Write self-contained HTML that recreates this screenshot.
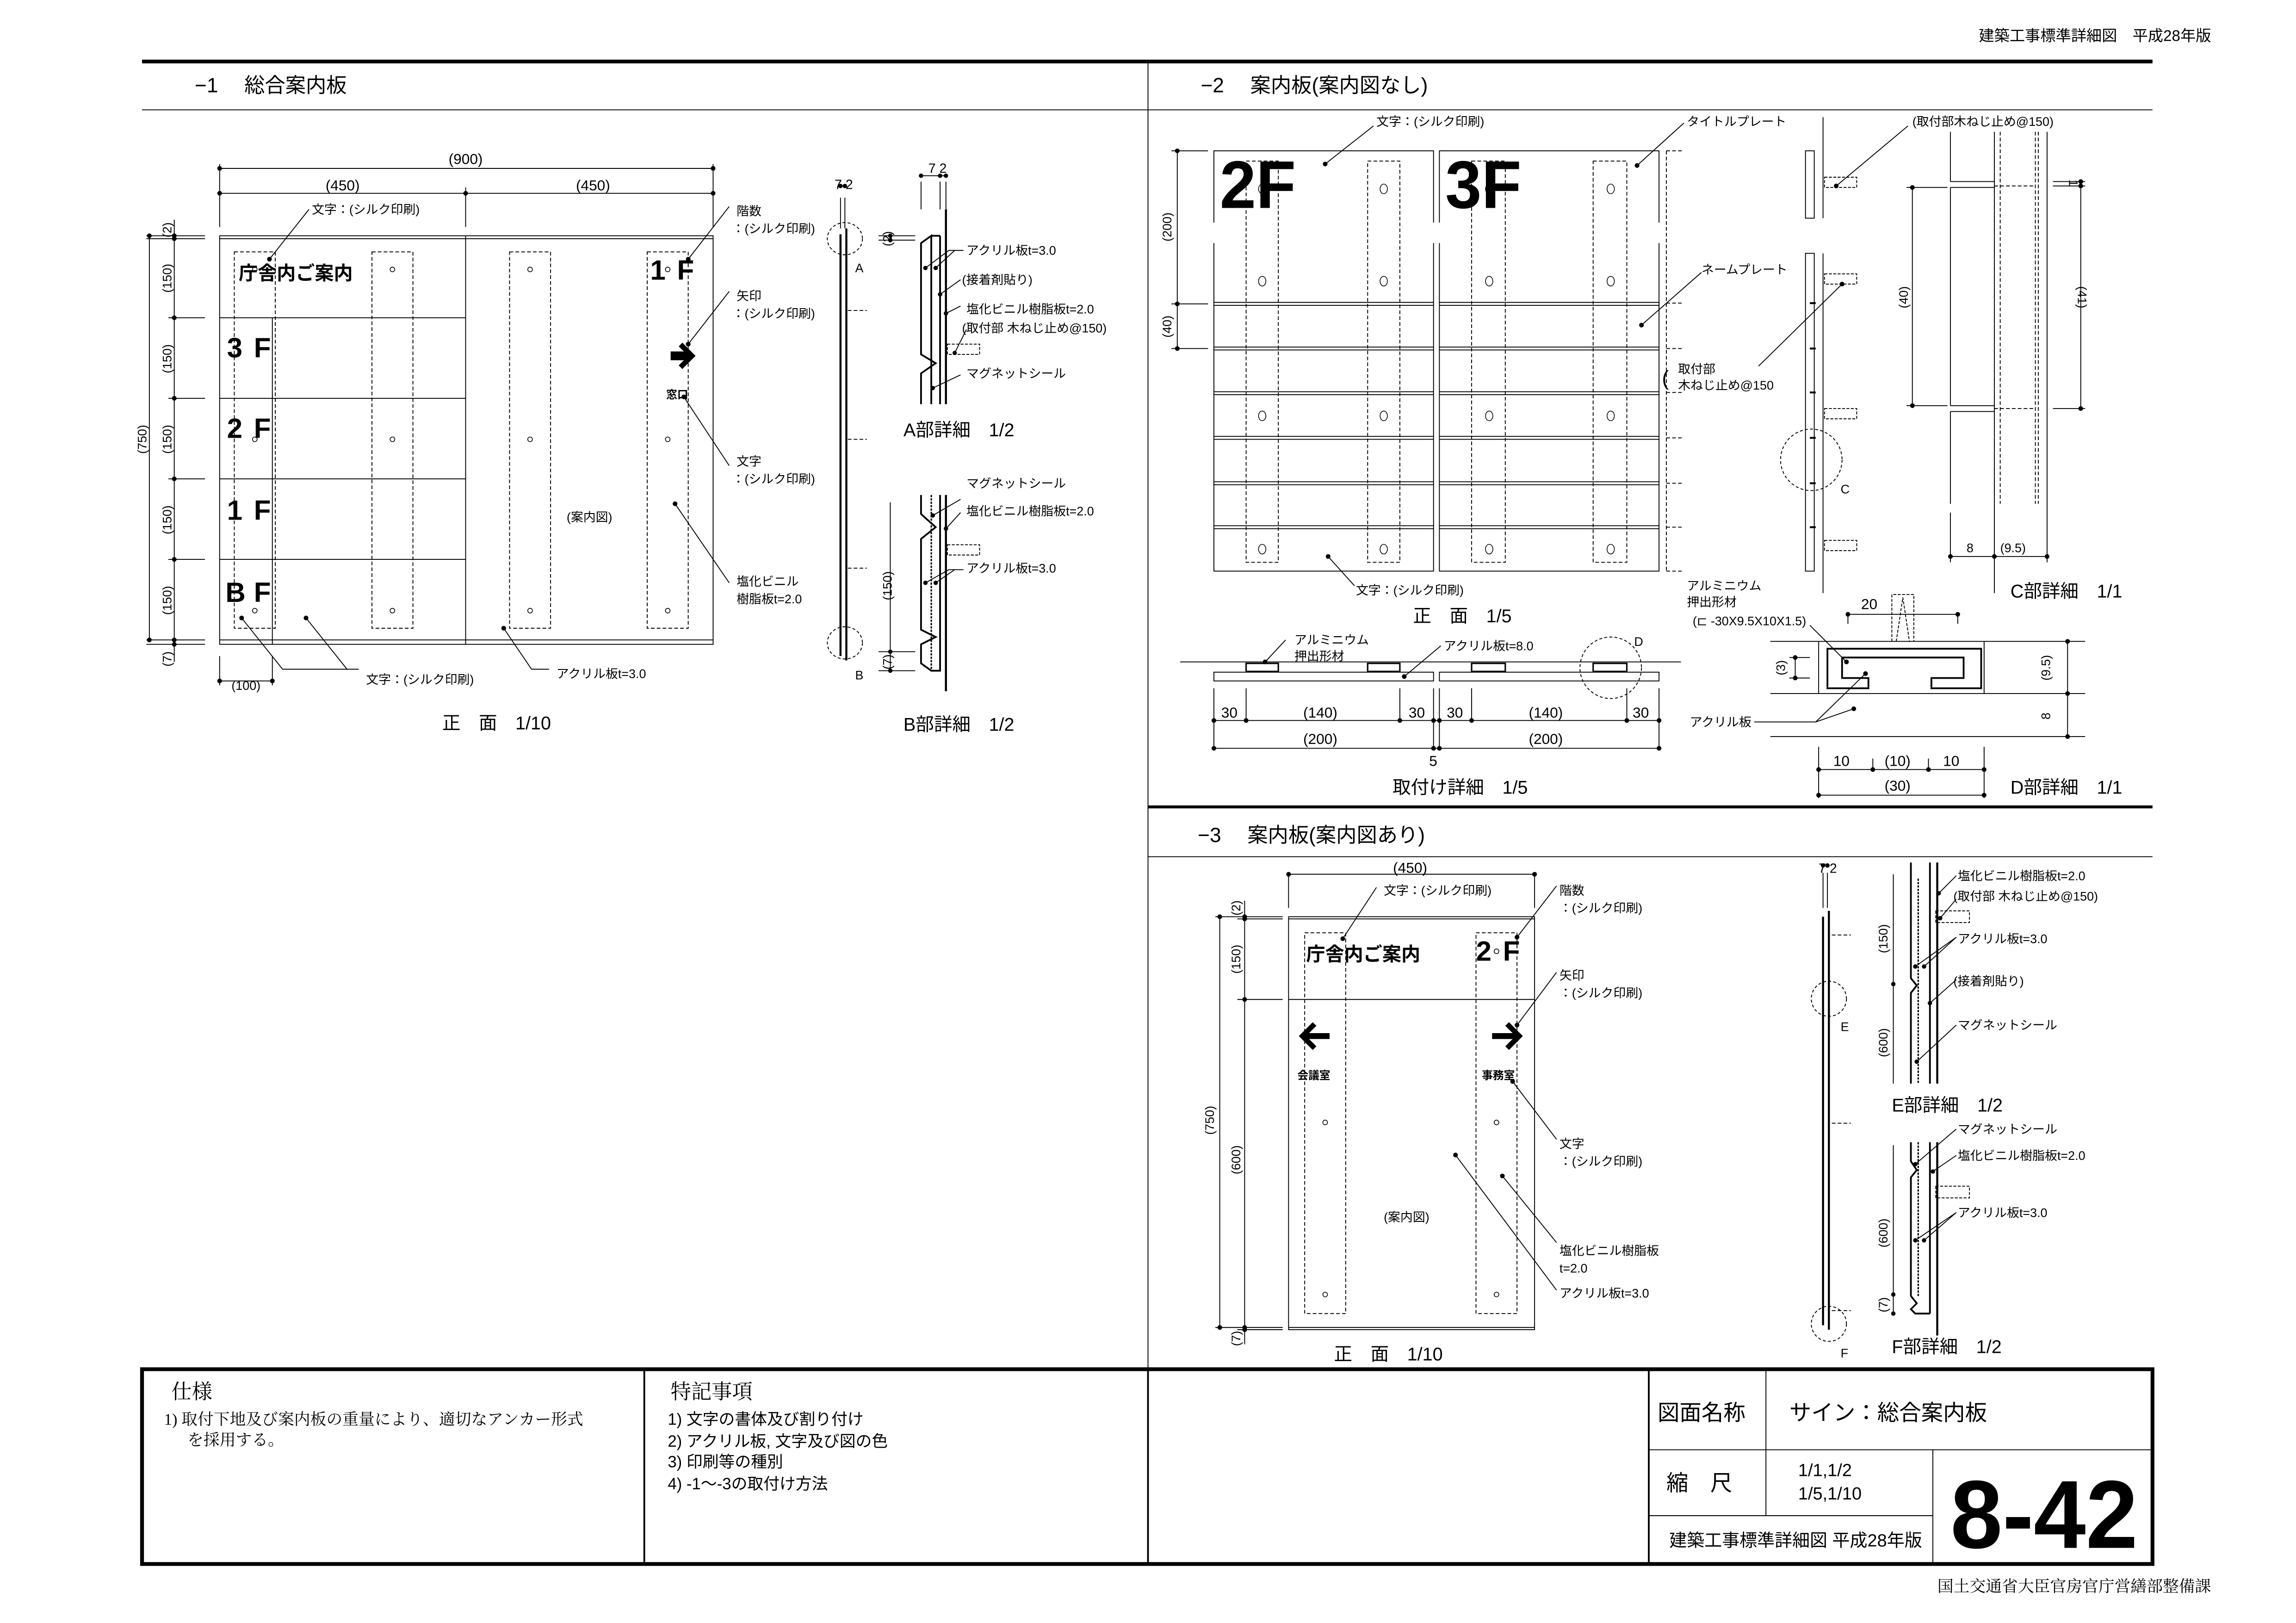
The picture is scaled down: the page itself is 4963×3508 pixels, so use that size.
<!DOCTYPE html>
<html><head><meta charset="utf-8">
<style>
html,body{margin:0;padding:0;background:#fff;}
svg{display:block;}
text{font-family:"Liberation Sans","Noto Sans CJK JP",sans-serif;fill:#000;}
.s{font-size:8.5px;}
.m{font-size:10px;}
.t{font-size:14px;}
.se{font-family:"Liberation Serif","Noto Serif CJK SC",serif;}
</style></head><body>
<svg width="4963" height="3508" viewBox="0 0 1568 1108.3" preserveAspectRatio="none" xmlns="http://www.w3.org/2000/svg">
<rect width="1568" height="1109" fill="#fff"/>
<g stroke="#000" fill="none" stroke-width="0.6">

<!-- header frame -->
<line x1="97" y1="42" x2="1470" y2="42" stroke-width="2.6"/>
<line x1="97" y1="75" x2="1470" y2="75"/>
<line x1="784" y1="42" x2="784" y2="935"/>
<line x1="784" y1="551" x2="1470" y2="551" stroke-width="2"/>
<line x1="784" y1="585" x2="1470" y2="585"/>

<!-- title block -->
<rect x="97" y="935" width="1373" height="133" stroke-width="2.6"/>
<line x1="440" y1="935" x2="440" y2="1068" stroke-width="1.2"/>
<line x1="784" y1="935" x2="784" y2="1068" stroke-width="1.2"/>
<line x1="1126" y1="935" x2="1126" y2="1068" stroke-width="1.2"/>
<line x1="1126" y1="990" x2="1470" y2="990"/>
<line x1="1126" y1="1035" x2="1320" y2="1035"/>
<line x1="1206" y1="935" x2="1206" y2="1035"/>
<line x1="1320" y1="990" x2="1320" y2="1068"/>

<!-- ===== -1 front ===== -->
<line x1="150" y1="115" x2="487" y2="115"/>
<line x1="150" y1="132" x2="487" y2="132"/>
<line x1="150" y1="112" x2="150" y2="155"/>
<line x1="318" y1="128" x2="318" y2="155"/>
<line x1="487" y1="112" x2="487" y2="155"/>
<rect x="150" y="161" width="337" height="279"/>
<line x1="150" y1="163" x2="487" y2="163"/>
<line x1="150" y1="437" x2="487" y2="437"/>
<line x1="318" y1="161" x2="318" y2="440"/>
<line x1="186" y1="217" x2="186" y2="440"/>
<line x1="150" y1="217" x2="318" y2="217"/>
<line x1="150" y1="272" x2="318" y2="272"/>
<line x1="150" y1="327" x2="318" y2="327"/>
<line x1="150" y1="382" x2="318" y2="382"/>
<g>
<line x1="100" y1="161" x2="140" y2="161"/><line x1="100" y1="163" x2="140" y2="163"/>
<line x1="115" y1="217" x2="140" y2="217"/><line x1="115" y1="272" x2="140" y2="272"/>
<line x1="115" y1="327" x2="140" y2="327"/><line x1="115" y1="382" x2="140" y2="382"/>
<line x1="100" y1="437" x2="140" y2="437"/><line x1="100" y1="440" x2="140" y2="440"/>
<line x1="102" y1="161" x2="102" y2="437"/>
<line x1="119" y1="150" x2="119" y2="452"/>
</g>
<g stroke-dasharray="2.5,1.5">
<rect x="160" y="172" width="28" height="257"/>
<rect x="254" y="172" width="28" height="257"/>
<rect x="348" y="172" width="28" height="257"/>
<rect x="442" y="172" width="28" height="257"/>
</g>
<g stroke-width="0.5">
<circle cx="174" cy="184" r="1.6"/><circle cx="268" cy="184" r="1.6"/><circle cx="362" cy="184" r="1.6"/><circle cx="456" cy="184" r="1.6"/>
<circle cx="174" cy="300" r="1.6"/><circle cx="268" cy="300" r="1.6"/><circle cx="362" cy="300" r="1.6"/><circle cx="456" cy="300" r="1.6"/>
<circle cx="174" cy="417" r="1.6"/><circle cx="268" cy="417" r="1.6"/><circle cx="362" cy="417" r="1.6"/><circle cx="456" cy="417" r="1.6"/>
</g>
<line x1="150" y1="448" x2="150" y2="468"/><line x1="186" y1="448" x2="186" y2="468"/>
<line x1="150" y1="465" x2="186" y2="465"/>
<!-- leaders -1 -->
<polyline points="211,143 184,177"/>
<polyline points="498,141 470,177"/>
<polyline points="498,199 470,235"/>
<polyline points="498,318 467,271"/>
<polyline points="498,398 461,344"/>
<polyline points="165,422 193,457 245,457"/>
<polyline points="209,422 237,457"/>
<polyline points="344,429 363,457 375,457"/>

<!-- side section -1 -->
<line x1="574" y1="135" x2="574" y2="156"/><line x1="577" y1="135" x2="577" y2="156"/>
<line x1="574" y1="160" x2="574" y2="448" stroke-width="1.4"/>
<line x1="578" y1="156" x2="578" y2="451" stroke-width="1.4"/>
<ellipse cx="577" cy="163" rx="12" ry="11" stroke-dasharray="2,1.5"/>
<ellipse cx="577" cy="439" rx="12" ry="11" stroke-dasharray="2,1.5"/>
<g stroke-dasharray="2.5,1.5"><line x1="579" y1="212" x2="592" y2="212"/><line x1="579" y1="300" x2="592" y2="300"/><line x1="579" y1="388" x2="592" y2="388"/></g>
<!-- A detail -->
<line x1="629" y1="124" x2="629" y2="143"/><line x1="642" y1="124" x2="642" y2="143"/><line x1="646" y1="124" x2="646" y2="143"/>
<line x1="629" y1="120" x2="646" y2="120"/>
<polyline points="629,276 629,255 639,248 629,242 629,166 636,161 636,276" stroke-width="1.2"/>
<line x1="642" y1="161" x2="642" y2="276" stroke-width="1.2"/>
<line x1="636" y1="161" x2="642" y2="161" stroke-width="1.2"/>
<line x1="646" y1="143" x2="646" y2="276" stroke-width="1.4"/>
<rect x="647" y="235" width="22" height="7" stroke-dasharray="2,1"/>
<line x1="600" y1="161" x2="625" y2="161"/><line x1="600" y1="164" x2="625" y2="164"/>
<polyline points="632,183 648,171 658,171"/><polyline points="639,183 652,171"/>
<polyline points="642,201 656,191"/><polyline points="646,214 656,209"/>
<polyline points="652,241 660,225"/><polyline points="637,265 656,256"/>
<!-- B detail -->
<polyline points="629,338 629,351 639,360 629,368 629,430 639,435 629,440 629,453 636,458 642,458 642,338" stroke-width="1.2"/>
<line x1="636" y1="338" x2="636" y2="458" stroke-width="1" stroke-dasharray="1.5,0.8"/>
<line x1="646" y1="338" x2="646" y2="472" stroke-width="1.4"/>
<rect x="647" y="372" width="22" height="7" stroke-dasharray="2,1"/>
<line x1="608" y1="343" x2="608" y2="459"/>
<line x1="600" y1="445" x2="625" y2="445"/><line x1="600" y1="458" x2="625" y2="458"/>
<polyline points="637,352 656,341"/><polyline points="646,361 656,350"/>
<polyline points="632,398 648,389 658,389"/><polyline points="639,398 652,389"/>

<!-- ===== -2 front ===== -->
<rect x="829" y="103" width="150" height="287"/>
<rect x="983" y="103" width="150" height="287"/>
<g>
<line x1="829" y1="206.5" x2="979" y2="206.5"/><line x1="829" y1="208.5" x2="979" y2="208.5"/>
<line x1="983" y1="206.5" x2="1133" y2="206.5"/><line x1="983" y1="208.5" x2="1133" y2="208.5"/>
<line x1="829" y1="237" x2="979" y2="237"/><line x1="829" y1="239" x2="979" y2="239"/>
<line x1="983" y1="237" x2="1133" y2="237"/><line x1="983" y1="239" x2="1133" y2="239"/>
<line x1="829" y1="267.5" x2="979" y2="267.5"/><line x1="829" y1="269.5" x2="979" y2="269.5"/>
<line x1="983" y1="267.5" x2="1133" y2="267.5"/><line x1="983" y1="269.5" x2="1133" y2="269.5"/>
<line x1="829" y1="298" x2="979" y2="298"/><line x1="829" y1="300" x2="979" y2="300"/>
<line x1="983" y1="298" x2="1133" y2="298"/><line x1="983" y1="300" x2="1133" y2="300"/>
<line x1="829" y1="329" x2="979" y2="329"/><line x1="829" y1="331" x2="979" y2="331"/>
<line x1="983" y1="329" x2="1133" y2="329"/><line x1="983" y1="331" x2="1133" y2="331"/>
<line x1="829" y1="359" x2="979" y2="359"/><line x1="829" y1="361" x2="979" y2="361"/>
<line x1="983" y1="359" x2="1133" y2="359"/><line x1="983" y1="361" x2="1133" y2="361"/>
</g>
<rect x="828" y="152" width="306" height="14" fill="#fff" stroke="none"/>
<g stroke-dasharray="2.5,1.5">
<rect x="851" y="110" width="22" height="274"/><rect x="934" y="110" width="22" height="274"/>
<rect x="1005" y="110" width="23" height="274"/><rect x="1088" y="110" width="23" height="274"/>
<line x1="1138" y1="103" x2="1149" y2="103"/><line x1="1138" y1="103" x2="1138" y2="390"/><line x1="1138" y1="390" x2="1149" y2="390"/>
<line x1="1138" y1="207" x2="1149" y2="207"/><line x1="1138" y1="238" x2="1149" y2="238"/><line x1="1138" y1="268" x2="1149" y2="268"/>
<line x1="1138" y1="299" x2="1149" y2="299"/><line x1="1138" y1="330" x2="1149" y2="330"/><line x1="1138" y1="360" x2="1149" y2="360"/>
</g>
<g stroke-width="0.5">
<ellipse cx="862" cy="129" rx="2.5" ry="3.3"/><ellipse cx="945" cy="129" rx="2.5" ry="3.3"/><ellipse cx="1017" cy="129" rx="2.5" ry="3.3"/><ellipse cx="1100" cy="129" rx="2.5" ry="3.3"/>
<ellipse cx="862" cy="192" rx="2.5" ry="3.3"/><ellipse cx="945" cy="192" rx="2.5" ry="3.3"/><ellipse cx="1017" cy="192" rx="2.5" ry="3.3"/><ellipse cx="1100" cy="192" rx="2.5" ry="3.3"/>
<ellipse cx="862" cy="284" rx="2.5" ry="3.3"/><ellipse cx="945" cy="284" rx="2.5" ry="3.3"/><ellipse cx="1017" cy="284" rx="2.5" ry="3.3"/><ellipse cx="1100" cy="284" rx="2.5" ry="3.3"/>
<ellipse cx="862" cy="375" rx="2.5" ry="3.3"/><ellipse cx="945" cy="375" rx="2.5" ry="3.3"/><ellipse cx="1017" cy="375" rx="2.5" ry="3.3"/><ellipse cx="1100" cy="375" rx="2.5" ry="3.3"/>
</g>
<line x1="804" y1="103" x2="804" y2="238"/>
<line x1="800" y1="103" x2="825" y2="103"/><line x1="800" y1="207.5" x2="825" y2="207.5"/><line x1="800" y1="238" x2="825" y2="238"/>
<polyline points="938,86 905,112"/>
<polyline points="1150,84 1118,113"/>
<polyline points="1162,186 1121,222"/>
<polyline points="925,400 907,380"/>
<!-- C side section -->
<rect x="1233" y="103" width="6" height="46"/>
<rect x="1233" y="173" width="6" height="217"/>
<line x1="1245" y1="80" x2="1245" y2="149"/><line x1="1245" y1="173" x2="1245" y2="405"/>
<g stroke-dasharray="2,1">
<rect x="1246" y="121" width="22" height="7"/><rect x="1246" y="187" width="22" height="7"/>
<rect x="1246" y="279" width="22" height="7"/><rect x="1246" y="369" width="22" height="7"/>
</g>
<g stroke-width="1.3"><line x1="1236" y1="207" x2="1240" y2="207"/><line x1="1236" y1="238" x2="1240" y2="238"/><line x1="1236" y1="268" x2="1240" y2="268"/><line x1="1236" y1="299" x2="1240" y2="299"/><line x1="1236" y1="330" x2="1240" y2="330"/><line x1="1236" y1="360" x2="1240" y2="360"/></g>
<ellipse cx="1237" cy="314" rx="21" ry="21" stroke-dasharray="2,1.5"/>
<polyline points="1303,86 1254,127"/>
<polyline points="1201,250 1258,194"/>
<!-- C detail -->
<line x1="1332" y1="90" x2="1332" y2="124"/><line x1="1332" y1="128" x2="1332" y2="277"/><line x1="1332" y1="281" x2="1332" y2="344"/>
<line x1="1332" y1="124" x2="1362" y2="124"/><line x1="1332" y1="128" x2="1362" y2="128"/>
<line x1="1332" y1="277" x2="1362" y2="277"/><line x1="1332" y1="281" x2="1362" y2="281"/>
<line x1="1362" y1="90" x2="1362" y2="405"/>
<g stroke-dasharray="2.5,1.5"><line x1="1366" y1="90" x2="1366" y2="344"/><line x1="1390" y1="90" x2="1390" y2="344"/><line x1="1392" y1="90" x2="1392" y2="344"/>
<line x1="1362" y1="127" x2="1390" y2="127"/><line x1="1362" y1="279" x2="1390" y2="279"/></g>
<line x1="1398" y1="90" x2="1398" y2="384"/>
<line x1="1306" y1="128" x2="1306" y2="277"/>
<line x1="1302" y1="128" x2="1330" y2="128"/><line x1="1302" y1="277" x2="1330" y2="277"/>
<line x1="1421" y1="126" x2="1421" y2="279"/>
<line x1="1402" y1="124" x2="1424" y2="124"/><line x1="1402" y1="127" x2="1424" y2="127"/><line x1="1402" y1="279" x2="1424" y2="279"/>
<line x1="1332" y1="380" x2="1398" y2="380"/><line x1="1332" y1="350" x2="1332" y2="384"/>
<!-- 取付け詳細 -->
<line x1="806" y1="452" x2="1148" y2="452"/>
<rect x="829" y="459" width="150" height="6"/><rect x="983" y="459" width="150" height="6"/>
<g stroke-width="1">
<rect x="851" y="453" width="22" height="5.5"/><rect x="934" y="453" width="22" height="5.5"/>
<rect x="1005" y="453" width="23" height="5.5"/><rect x="1088" y="453" width="23" height="5.5"/>
</g>
<ellipse cx="1100" cy="456" rx="21" ry="21" stroke-dasharray="2,1.5"/>
<line x1="829" y1="470" x2="829" y2="511"/><line x1="851" y1="470" x2="851" y2="493"/><line x1="956" y1="470" x2="956" y2="493"/><line x1="979" y1="470" x2="979" y2="511"/>
<line x1="983" y1="470" x2="983" y2="511"/><line x1="1005" y1="470" x2="1005" y2="493"/><line x1="1111" y1="470" x2="1111" y2="493"/><line x1="1133" y1="470" x2="1133" y2="511"/>
<line x1="829" y1="492" x2="1133" y2="492"/>
<line x1="829" y1="511" x2="1133" y2="511"/>
<polyline points="864,452 878,437"/>
<polyline points="959,462 984,441"/>
<!-- D detail -->
<line x1="1209" y1="438" x2="1424" y2="438"/><line x1="1209" y1="473.6" x2="1424" y2="473.6"/><line x1="1209" y1="503" x2="1424" y2="503"/>
<line x1="1242" y1="438" x2="1242" y2="473.6"/><line x1="1355" y1="438" x2="1355" y2="473.6"/>
<polygon points="1248,443 1353,443 1353,470 1319,470 1319,463 1341,463 1341,449 1258,449 1258,463 1276,463 1276,470 1248,470" stroke-width="1.2"/>
<path d="M1292,438 L1292,406 L1307,406 L1307,438 M1295,438 L1299.5,408 L1304,438" stroke-dasharray="2,1"/>
<line x1="1262" y1="419.5" x2="1337" y2="419.5"/><line x1="1262" y1="419.5" x2="1262" y2="426"/><line x1="1337" y1="419.5" x2="1337" y2="426"/>
<line x1="1226" y1="449" x2="1226" y2="463"/><line x1="1222" y1="449" x2="1236" y2="449"/><line x1="1222" y1="463" x2="1236" y2="463"/>
<line x1="1412" y1="438" x2="1412" y2="503"/>
<line x1="1242" y1="510" x2="1242" y2="545"/><line x1="1355" y1="510" x2="1355" y2="545"/>
<line x1="1242" y1="525.5" x2="1355" y2="525.5"/><line x1="1279" y1="518" x2="1279" y2="526"/><line x1="1317" y1="518" x2="1317" y2="526"/>
<line x1="1242" y1="543" x2="1355" y2="543"/>
<polyline points="1236,427 1261,452"/>
<polyline points="1198,493 1240,493 1274,460"/>
<polyline points="1240,493 1266,484"/>

<!-- ===== -3 front ===== -->
<line x1="880" y1="597" x2="1048" y2="597"/>
<line x1="880" y1="597" x2="880" y2="620"/><line x1="1048" y1="597" x2="1048" y2="620"/>
<rect x="880" y="626" width="168" height="282"/>
<line x1="880" y1="627.5" x2="1048" y2="627.5"/>
<line x1="880" y1="906.5" x2="1048" y2="906.5"/>
<line x1="880" y1="682.5" x2="1048" y2="682.5"/>
<line x1="830" y1="626" x2="876" y2="626"/><line x1="845" y1="627.5" x2="876" y2="627.5"/>
<line x1="845" y1="682.5" x2="876" y2="682.5"/>
<line x1="830" y1="906.5" x2="876" y2="906.5"/><line x1="845" y1="908" x2="876" y2="908"/>
<line x1="833" y1="626" x2="833" y2="906.5"/>
<line x1="850" y1="615" x2="850" y2="918"/>
<g stroke-dasharray="2.5,1.5"><rect x="891" y="637" width="28" height="260"/><rect x="1008" y="637" width="28" height="260"/></g>
<g stroke-width="0.5"><circle cx="905" cy="766.5" r="1.6"/><circle cx="905" cy="884" r="1.6"/><circle cx="1022" cy="766.5" r="1.6"/><circle cx="1022" cy="884" r="1.6"/><circle cx="1022" cy="649.6" r="1.6"/></g>
<polyline points="940,606 917,641"/>
<polyline points="1063,605 1036,640"/>
<polyline points="1063,664 1036,700"/>
<polyline points="1063,778 1033,738.5"/>
<polyline points="1063,848.5 1026,803"/>
<polyline points="1063,881 994,788.7"/>
<!-- side -3 -->
<line x1="1245" y1="596" x2="1245" y2="620"/><line x1="1248" y1="596" x2="1248" y2="620"/>
<line x1="1245" y1="626" x2="1245" y2="905" stroke-width="1.4"/>
<line x1="1249" y1="622" x2="1249" y2="908" stroke-width="1.4"/>
<ellipse cx="1249" cy="682" rx="12" ry="12" stroke-dasharray="2,1.5"/>
<ellipse cx="1249" cy="904" rx="12" ry="12" stroke-dasharray="2,1.5"/>
<g stroke-dasharray="2.5,1.5"><line x1="1251" y1="638.5" x2="1264" y2="638.5"/><line x1="1251" y1="767" x2="1264" y2="767"/><line x1="1251" y1="895" x2="1264" y2="895"/></g>
<!-- E detail -->
<polyline points="1305,589 1305,668 1309,673 1305,678 1305,740" stroke-width="1.2"/>
<line x1="1310" y1="600" x2="1310" y2="740" stroke-width="1" stroke-dasharray="1.5,0.8"/>
<line x1="1318" y1="589" x2="1318" y2="740" stroke-width="1.2"/>
<line x1="1323" y1="589" x2="1323" y2="740" stroke-width="1.4"/>
<rect x="1322" y="622" width="23" height="8" stroke-dasharray="2,1"/>
<line x1="1293" y1="597" x2="1293" y2="740"/>
<polyline points="1324,610 1336,598"/><polyline points="1325,627 1336,614"/>
<polyline points="1308,660 1336,640"/><polyline points="1314,660 1336,640"/>
<polyline points="1318,685 1336,669"/><polyline points="1309,725 1336,700"/>
<!-- F detail -->
<polyline points="1305,780 1305,793 1309,799 1305,804 1305,885 1309,890 1305,894 1308,897 1318,897" stroke-width="1.2"/>
<line x1="1310" y1="780" x2="1310" y2="885" stroke-width="1" stroke-dasharray="1.5,0.8"/>
<line x1="1318" y1="780" x2="1318" y2="897" stroke-width="1.2"/>
<line x1="1323" y1="780" x2="1323" y2="912" stroke-width="1.4"/>
<rect x="1322" y="810" width="23" height="8" stroke-dasharray="2,1"/>
<line x1="1293" y1="782" x2="1293" y2="897"/>
<polyline points="1308,795 1336,771"/><polyline points="1320,800 1336,789"/>
<polyline points="1308,847 1336,828"/><polyline points="1314,847 1336,828"/>
</g>

<!-- dots -->
<g fill="#000">
<circle cx="150" cy="115" r="1.6"/><circle cx="487" cy="115" r="1.6"/><circle cx="150" cy="132" r="1.6"/><circle cx="318" cy="132" r="1.6"/><circle cx="487" cy="132" r="1.6"/>
<circle cx="102" cy="161" r="1.6"/><circle cx="102" cy="437" r="1.6"/>
<circle cx="119" cy="161" r="1.6"/><circle cx="119" cy="163" r="1.6"/><circle cx="119" cy="217" r="1.6"/><circle cx="119" cy="272" r="1.6"/><circle cx="119" cy="327" r="1.6"/><circle cx="119" cy="382" r="1.6"/><circle cx="119" cy="437" r="1.6"/><circle cx="119" cy="440" r="1.6"/>
<circle cx="150" cy="465" r="1.6"/><circle cx="186" cy="465" r="1.6"/>
<circle cx="184" cy="177" r="1.6"/><circle cx="470" cy="177" r="1.6"/><circle cx="470" cy="235" r="1.6"/><circle cx="467" cy="271" r="1.6"/><circle cx="461" cy="344" r="1.6"/>
<circle cx="165" cy="422" r="1.6"/><circle cx="209" cy="422" r="1.6"/><circle cx="344" cy="429" r="1.6"/>
<circle cx="574" cy="127" r="1.5"/><circle cx="577" cy="127" r="1.5"/>
<circle cx="629" cy="120" r="1.5"/><circle cx="642" cy="120" r="1.5"/><circle cx="646" cy="120" r="1.5"/>
<circle cx="608" cy="161" r="1.5"/><circle cx="608" cy="164" r="1.5"/><circle cx="608" cy="445" r="1.5"/><circle cx="608" cy="458" r="1.5"/>
<circle cx="632" cy="183" r="1.5"/><circle cx="639" cy="183" r="1.5"/><circle cx="642" cy="201" r="1.5"/><circle cx="646" cy="214" r="1.5"/><circle cx="652" cy="241" r="1.5"/><circle cx="637" cy="265" r="1.5"/>
<circle cx="637" cy="352" r="1.5"/><circle cx="646" cy="361" r="1.5"/><circle cx="632" cy="398" r="1.5"/><circle cx="639" cy="398" r="1.5"/>
<circle cx="804" cy="103" r="1.6"/><circle cx="804" cy="207.5" r="1.6"/><circle cx="804" cy="238" r="1.6"/>
<circle cx="905" cy="112" r="1.6"/><circle cx="1118" cy="113" r="1.6"/><circle cx="1121" cy="222" r="1.6"/><circle cx="907" cy="380" r="1.6"/>
<circle cx="1254" cy="127" r="1.6"/><circle cx="1258" cy="194" r="1.6"/>
<circle cx="1306" cy="128" r="1.6"/><circle cx="1306" cy="277" r="1.6"/><circle cx="1421" cy="127" r="1.6"/><circle cx="1421" cy="279" r="1.6"/><circle cx="1421" cy="124" r="1.6"/>
<circle cx="1332" cy="380" r="1.6"/><circle cx="1362" cy="380" r="1.6"/><circle cx="1398" cy="380" r="1.6"/>
<circle cx="829" cy="492" r="1.6"/><circle cx="851" cy="492" r="1.6"/><circle cx="956" cy="492" r="1.6"/><circle cx="979" cy="492" r="1.6"/><circle cx="983" cy="492" r="1.6"/><circle cx="1005" cy="492" r="1.6"/><circle cx="1111" cy="492" r="1.6"/><circle cx="1133" cy="492" r="1.6"/>
<circle cx="829" cy="511" r="1.6"/><circle cx="979" cy="511" r="1.6"/><circle cx="983" cy="511" r="1.6"/><circle cx="1133" cy="511" r="1.6"/>
<circle cx="864" cy="452" r="1.6"/><circle cx="959" cy="462" r="1.6"/>
<circle cx="1262" cy="419.5" r="1.6"/><circle cx="1337" cy="419.5" r="1.6"/><circle cx="1226" cy="449" r="1.6"/><circle cx="1226" cy="463" r="1.6"/>
<circle cx="1412" cy="438" r="1.6"/><circle cx="1412" cy="473.6" r="1.6"/><circle cx="1412" cy="503" r="1.6"/>
<circle cx="1242" cy="525.5" r="1.6"/><circle cx="1279" cy="525.5" r="1.6"/><circle cx="1317" cy="525.5" r="1.6"/><circle cx="1355" cy="525.5" r="1.6"/><circle cx="1242" cy="543" r="1.6"/><circle cx="1355" cy="543" r="1.6"/>
<circle cx="1261" cy="452" r="1.6"/><circle cx="1274" cy="460" r="1.6"/><circle cx="1266" cy="484" r="1.6"/>
<circle cx="880" cy="597" r="1.6"/><circle cx="1048" cy="597" r="1.6"/>
<circle cx="833" cy="626" r="1.6"/><circle cx="833" cy="906.5" r="1.6"/><circle cx="850" cy="626" r="1.6"/><circle cx="850" cy="627.5" r="1.6"/><circle cx="850" cy="682.5" r="1.6"/><circle cx="850" cy="906.5" r="1.6"/><circle cx="850" cy="908" r="1.6"/>
<circle cx="917" cy="641" r="1.6"/><circle cx="1036" cy="640" r="1.6"/><circle cx="1036" cy="700" r="1.6"/><circle cx="1033" cy="738.5" r="1.6"/><circle cx="1026" cy="803" r="1.6"/><circle cx="994" cy="788.7" r="1.6"/>
<circle cx="1245" cy="591" r="1.5"/><circle cx="1248" cy="591" r="1.5"/>
<circle cx="1324" cy="610" r="1.5"/><circle cx="1325" cy="627" r="1.5"/><circle cx="1308" cy="660" r="1.5"/><circle cx="1314" cy="660" r="1.5"/><circle cx="1318" cy="685" r="1.5"/><circle cx="1309" cy="725" r="1.5"/><circle cx="1293" cy="672" r="1.5"/>
<circle cx="1308" cy="795" r="1.5"/><circle cx="1320" cy="800" r="1.5"/><circle cx="1308" cy="847" r="1.5"/><circle cx="1314" cy="847" r="1.5"/><circle cx="1293" cy="884" r="1.5"/><circle cx="1293" cy="897" r="1.5"/>
<!-- arrows -->
<path d="M458,240 h9 v-4 l8,7 l-8,7 v-4 h-9 z"/>
<path d="M466,234 l9,9 l-9,9 l-2.5,-2.5 l6.5,-6.5 l-6.5,-6.5 z"/>
<path d="M908,705.5 h-14 l5,-5 l-2.5,-2.5 l-9.5,9.5 l9.5,9.5 l2.5,-2.5 l-5,-5 h14 z"/>
<path d="M1019,705.5 h14 l-5,-5 l2.5,-2.5 l9.5,9.5 l-9.5,9.5 l-2.5,-2.5 l5,-5 h-14 z"/>
</g>

<!-- ===== TEXT ===== -->
<text x="1510" y="28" class="m" text-anchor="end" style="font-size:10.5px">建築工事標準詳細図　平成28年版</text>
<text x="133" y="63" class="t">−1　 総合案内板</text>
<text x="820" y="63" class="t">−2　 案内板(案内図なし)</text>
<text x="818" y="575" class="t">−3　 案内板(案内図あり)</text>

<!-- -1 -->
<text x="318" y="112" class="m" text-anchor="middle">(900)</text>
<text x="234" y="130" class="m" text-anchor="middle">(450)</text>
<text x="405" y="130" class="m" text-anchor="middle">(450)</text>
<text x="213" y="146" class="s">文字：(シルク印刷)</text>
<g class="s">
<text transform="translate(117,157) rotate(-90)" text-anchor="middle">(2)</text>
<text transform="translate(117,190) rotate(-90)" text-anchor="middle">(150)</text>
<text transform="translate(117,245) rotate(-90)" text-anchor="middle">(150)</text>
<text transform="translate(117,300) rotate(-90)" text-anchor="middle">(150)</text>
<text transform="translate(117,355) rotate(-90)" text-anchor="middle">(150)</text>
<text transform="translate(117,410) rotate(-90)" text-anchor="middle">(150)</text>
<text transform="translate(117,450) rotate(-90)" text-anchor="middle">(7)</text>
<text transform="translate(100,300) rotate(-90)" text-anchor="middle">(750)</text>
</g>
<text x="168" y="471" class="s" text-anchor="middle">(100)</text>
<text x="163" y="191" style="font-size:13px;font-weight:bold">庁舎内ご案内</text>
<text x="155" y="244" style="font-size:19px;font-weight:bold" textLength="30">3 F</text>
<text x="155" y="299" style="font-size:19px;font-weight:bold" textLength="30">2 F</text>
<text x="155" y="355" style="font-size:19px;font-weight:bold" textLength="30">1 F</text>
<text x="154" y="411" style="font-size:19px;font-weight:bold" textLength="31">B F</text>
<text x="444" y="191" style="font-size:19px;font-weight:bold" textLength="30">1 F</text>
<text x="455" y="272" style="font-size:7.5px;font-weight:bold">窓口</text>
<text x="387" y="356" class="s">(案内図)</text>
<g class="s">
<text x="503" y="147">階数</text><text x="500" y="159">：(シルク印刷)</text>
<text x="503" y="205">矢印</text><text x="500" y="217">：(シルク印刷)</text>
<text x="503" y="318">文字</text><text x="500" y="330">：(シルク印刷)</text>
<text x="503" y="400">塩化ビニル</text><text x="503" y="412">樹脂板t=2.0</text>
<text x="250" y="467">文字：(シルク印刷)</text>
<text x="380" y="463">アクリル板t=3.0</text>
</g>
<text x="302" y="498" style="font-size:12.5px">正　面　1/10</text>
<!-- side -1 text -->
<g class="s">
<text x="570" y="129" style="font-size:9px">7 2</text>
<text x="634" y="118" style="font-size:9px">7 2</text>
<text x="584" y="186">A</text><text x="584" y="464">B</text>
<text transform="translate(609,163) rotate(-90)" text-anchor="middle">(2)</text>
<text transform="translate(609,400) rotate(-90)" text-anchor="middle">(150)</text>
<text transform="translate(609,452) rotate(-90)" text-anchor="middle">(7)</text>
<text x="660" y="174">アクリル板t=3.0</text>
<text x="657" y="194">(接着剤貼り)</text>
<text x="660" y="214">塩化ビニル樹脂板t=2.0</text>
<text x="657" y="227">(取付部 木ねじ止め@150)</text>
<text x="660" y="258">マグネットシール</text>
<text x="660" y="333">マグネットシール</text>
<text x="660" y="352">塩化ビニル樹脂板t=2.0</text>
<text x="660" y="391">アクリル板t=3.0</text>
</g>
<text x="617" y="298" style="font-size:12.5px">A部詳細　1/2</text>
<text x="617" y="499" style="font-size:12.5px">B部詳細　1/2</text>

<!-- -2 text -->
<text x="833" y="142" style="font-size:46px;font-weight:bold" textLength="52" lengthAdjust="spacingAndGlyphs">2F</text>
<text x="987" y="142" style="font-size:46px;font-weight:bold" textLength="52" lengthAdjust="spacingAndGlyphs">3F</text>
<g class="s">
<text x="940" y="86">文字：(シルク印刷)</text>
<text x="1152" y="86">タイトルプレート</text>
<text x="1162" y="187">ネームプレート</text>
<text x="1146" y="255">取付部</text><text x="1146" y="266">木ねじ止め@150</text>
<text x="1135" y="263" style="font-size:14px">(</text>
<text x="926" y="406">文字：(シルク印刷)</text>
<text transform="translate(800,155) rotate(-90)" text-anchor="middle">(200)</text>
<text transform="translate(800,223) rotate(-90)" text-anchor="middle">(40)</text>
<text x="1306" y="86">(取付部木ねじ止め@150)</text>
<text x="1257" y="337">C</text>
<text transform="translate(1303,203) rotate(-90)" text-anchor="middle">(40)</text>
<text transform="translate(1419,203) rotate(90)" text-anchor="middle">(41)</text>
<text transform="translate(1413,125) rotate(90)" text-anchor="middle">1</text>
<text x="1343" y="377">8</text><text x="1366" y="377">(9.5)</text>
<text x="1152" y="403">アルミニウム</text><text x="1152" y="414">押出形材</text>
<text x="1156" y="427">(⊏ -30X9.5X10X1.5)</text>
<text x="884" y="440">アルミニウム</text><text x="884" y="451">押出形材</text>
<text x="986" y="444">アクリル板t=8.0</text>
<text x="1116" y="441">D</text>
<text x="834" y="490" class="m">30</text><text x="890" y="490" class="m">(140)</text><text x="962" y="490" class="m">30</text>
<text x="988" y="490" class="m">30</text><text x="1044" y="490" class="m">(140)</text><text x="1115" y="490" class="m">30</text>
<text x="890" y="508" class="m">(200)</text><text x="1044" y="508" class="m">(200)</text>
<text x="976" y="523" class="m">5</text>
<text x="1271" y="416" class="m">20</text>
<text transform="translate(1219,456) rotate(-90)" text-anchor="middle">(3)</text>
<text transform="translate(1400,456) rotate(-90)" text-anchor="middle">(9.5)</text>
<text transform="translate(1400,489) rotate(-90)" text-anchor="middle">8</text>
<text x="1154" y="496">アクリル板</text>
<text x="1252" y="523" class="m">10</text><text x="1287" y="523" class="m">(10)</text><text x="1327" y="523" class="m">10</text>
<text x="1287" y="540" class="m">(30)</text>
</g>
<text x="965" y="425" style="font-size:12.5px">正　面　1/5</text>
<text x="1373" y="408" style="font-size:12.5px">C部詳細　1/1</text>
<text x="951" y="542" style="font-size:12.5px">取付け詳細　1/5</text>
<text x="1373" y="542" style="font-size:12.5px">D部詳細　1/1</text>

<!-- -3 text -->
<text x="963" y="596" class="m" text-anchor="middle">(450)</text>
<g class="s">
<text x="945" y="611">文字：(シルク印刷)</text>
<text x="1065" y="611">階数</text><text x="1065" y="623">：(シルク印刷)</text>
<text x="1065" y="669">矢印</text><text x="1065" y="681">：(シルク印刷)</text>
<text x="1065" y="784">文字</text><text x="1065" y="796">：(シルク印刷)</text>
<text x="1065" y="857">塩化ビニル樹脂板</text><text x="1065" y="869">t=2.0</text>
<text x="1065" y="886">アクリル板t=3.0</text>
<text x="945" y="834">(案内図)</text>
<text transform="translate(847,620) rotate(-90)" text-anchor="middle">(2)</text>
<text transform="translate(847,655) rotate(-90)" text-anchor="middle">(150)</text>
<text transform="translate(847,792) rotate(-90)" text-anchor="middle">(600)</text>
<text transform="translate(829,765) rotate(-90)" text-anchor="middle">(750)</text>
<text transform="translate(847,914) rotate(-90)" text-anchor="middle">(7)</text>
<text x="1242" y="596" style="font-size:9px">7 2</text>
<text x="1257" y="704">E</text><text x="1257" y="927">F</text>
<text x="1337" y="601">塩化ビニル樹脂板t=2.0</text>
<text x="1334" y="615">(取付部 木ねじ止め@150)</text>
<text x="1337" y="644">アクリル板t=3.0</text>
<text x="1334" y="673">(接着剤貼り)</text>
<text x="1337" y="703">マグネットシール</text>
<text x="1337" y="774">マグネットシール</text>
<text x="1337" y="792">塩化ビニル樹脂板t=2.0</text>
<text x="1337" y="831">アクリル板t=3.0</text>
<text transform="translate(1289,641) rotate(-90)" text-anchor="middle">(150)</text>
<text transform="translate(1289,712) rotate(-90)" text-anchor="middle">(600)</text>
<text transform="translate(1289,842) rotate(-90)" text-anchor="middle">(600)</text>
<text transform="translate(1289,891) rotate(-90)" text-anchor="middle">(7)</text>
</g>
<text x="892" y="656" style="font-size:13px;font-weight:bold">庁舎内ご案内</text>
<text x="1008" y="656" style="font-size:19px;font-weight:bold" textLength="30">2 F</text>
<text x="886" y="737" style="font-size:7.5px;font-weight:bold">会議室</text>
<text x="1012" y="737" style="font-size:7.5px;font-weight:bold">事務室</text>
<text x="911" y="929" style="font-size:12.5px">正　面　1/10</text>
<text x="1292" y="759" style="font-size:12.5px">E部詳細　1/2</text>
<text x="1292" y="924" style="font-size:12.5px">F部詳細　1/2</text>

<!-- title block text -->
<text x="117" y="955" class="se" style="font-size:14px">仕様</text>
<text x="112" y="973" class="se" style="font-size:11px">1) 取付下地及び案内板の重量により、適切なアンカー形式</text>
<text x="128" y="987" class="se" style="font-size:11px">を採用する。</text>
<text x="458" y="955" class="se" style="font-size:14px">特記事項</text>
<g class="se" style="font-size:11px">
<text x="456" y="973">1) 文字の書体及び割り付け</text>
<text x="456" y="988">2) アクリル板, 文字及び図の色</text>
<text x="456" y="1002">3) 印刷等の種別</text>
<text x="456" y="1017">4) -1～-3の取付け方法</text>
</g>
<text x="1132" y="970" style="font-size:15px">図面名称</text>
<text x="1222" y="970" style="font-size:15px">サイン：総合案内板</text>
<text x="1138" y="1018" style="font-size:15px">縮　尺</text>
<text x="1228" y="1008" style="font-size:12px">1/1,1/2</text>
<text x="1228" y="1024" style="font-size:12px">1/5,1/10</text>
<text x="1140" y="1056" style="font-size:12px">建築工事標準詳細図 平成28年版</text>
<text x="1332" y="1057" style="font-size:66px;font-weight:bold" textLength="128" lengthAdjust="spacingAndGlyphs">8-42</text>
<text x="1510" y="1087" class="se" style="font-size:11px" text-anchor="end">国土交通省大臣官房官庁営繕部整備課</text>
</svg>
</body></html>
